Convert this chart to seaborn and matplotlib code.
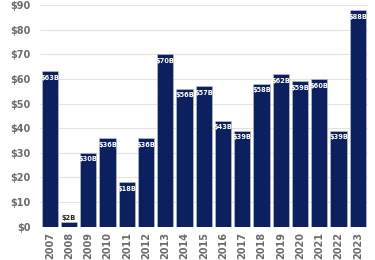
import matplotlib
matplotlib.use("Agg")
import matplotlib.pyplot as plt
import seaborn as sns
import pandas as pd

years = ['2007', '2008', '2009', '2010', '2011', '2012', '2013', '2014', '2015',
         '2016', '2017', '2018', '2019', '2020', '2021', '2022', '2023']
values = [63, 2, 30, 36, 18, 36, 70, 56, 57, 43, 39, 58, 62, 59, 60, 39, 88]
yticks = [0, 10, 20, 30, 40, 50, 60, 70, 80, 90]

navy = '#0c1f5e'
grey = '#6b6b6b'

df = pd.DataFrame({'year': years, 'value': values})

sns.set_style('white')
fig = plt.figure(figsize=(3.75, 2.6), dpi=100)
ax = fig.add_axes([0.107, 0.128, 0.873, 0.853])

sns.barplot(data=df, x='year', y='value', color=navy, saturation=1, width=0.845,
            edgecolor='#c8c8c8', linewidth=0.4, ax=ax, zorder=3)

ax.set_ylim(0, 90)
ax.set_xlim(-0.5, len(years) - 0.5)
ax.set_yticks(yticks)
ax.set_yticklabels([f'${t}' for t in yticks], fontsize=7, color=grey, fontweight='bold')
ax.set_xticks(range(len(years)))
ax.set_xticklabels(years, rotation=90, fontsize=7, color=grey, fontweight='bold')
ax.tick_params(axis='y', length=0, pad=7)
ax.tick_params(axis='x', length=0, pad=4)
ax.grid(axis='y', color='#e4e4e4', linewidth=0.8, zorder=0)
ax.set_axisbelow(True)
for s in ax.spines.values():
    s.set_visible(False)
ax.set_xlabel('')
ax.set_ylabel('')

for i, v in enumerate(values):
    if v < 5:
        ax.text(i, v + 0.4, f'${v}B', ha='center', va='bottom', fontsize=4.8,
                color='#222222', fontweight='bold', zorder=4)
    else:
        ax.text(i, v - 1.5, f'${v}B', ha='center', va='top', fontsize=4.8,
                color='white', fontweight='bold', zorder=4)

fig.savefig('out.png', dpi=100)
